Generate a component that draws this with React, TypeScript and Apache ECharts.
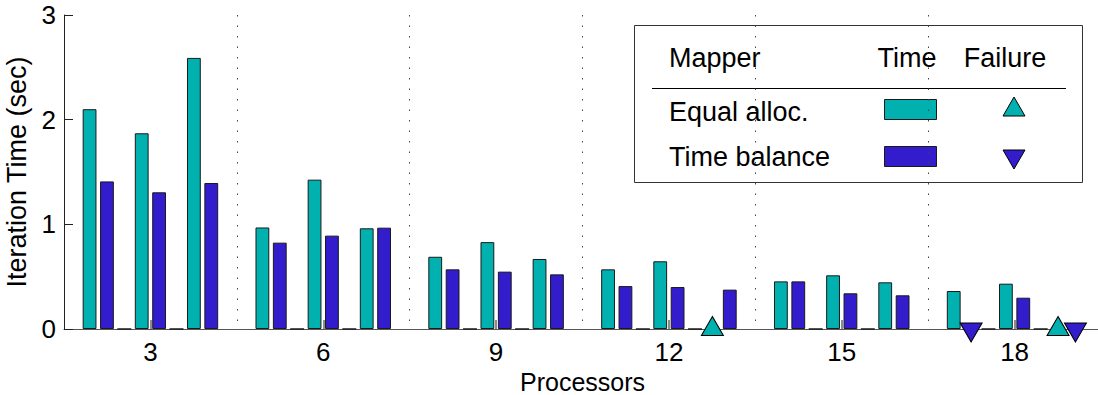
import React, { useEffect, useRef } from 'react';
import * as echarts from 'echarts';

// Processor counts (x categories)
const processors = ['3', '6', '9', '12', '15', '18'];
// Three test cases per processor count; null = mapper failed
const equalAlloc1 = [2.1, 0.97, 0.69, 0.57, 0.455, 0.363];
const timeBalance1 = [1.41, 0.825, 0.57, 0.41, 0.455, null];
const equalAlloc2 = [1.87, 1.427, 0.83, 0.647, 0.513, 0.433];
const timeBalance2 = [1.306, 0.892, 0.548, 0.401, 0.341, 0.299];
const equalAlloc3 = [2.59, 0.962, 0.669, null, 0.446, null];
const timeBalance3 = [1.395, 0.968, 0.522, 0.376, 0.322, null];
const spacer = [0, 0, 0, 0, 0, 0];

const yMin = 0;
const yMax = 3;
const yStep = 1;

const TEAL = '#00b1b0';
const BLUE = '#321ccb';
const FONT = '"Liberation Sans", Arial, Helvetica, sans-serif';

function failures(values: (number | null)[], up: boolean, color: string) {
  return {
    silent: true,
    symbol: 'triangle',
    symbolSize: [22, 19],
    symbolRotate: up ? 0 : 180,
    symbolOffset: [0, up ? -3 : 3.5],
    label: { show: false },
    itemStyle: { color, borderColor: '#000', borderWidth: 1 },
    data: processors
      .filter((_, i) => values[i] == null)
      .map((p) => ({ coord: [p, 0] })),
  };
}

function barSeries(name: string, values: (number | null)[], color: string, fail?: any) {
  return {
    name,
    type: 'bar',
    data: values,
    barWidth: 13.8,
    barGap: '26%',
    itemStyle: { color, borderColor: '#1a1a1a', borderWidth: 1 },
    markPoint: fail,
    z: 3,
  };
}

export default function App() {
  const ref = useRef<HTMLDivElement>(null);
  useEffect(() => {
    if (!ref.current) return;
    const chart = echarts.init(ref.current, null, { renderer: 'svg' });
    const legendX = 634.5;
    const legendY = 25.5;
    chart.setOption({
      animation: false,
      grid: { left: 64, top: 15, width: 1037, height: 314, containLabel: false, outerBoundsMode: 'none' },
      xAxis: {
        type: 'category',
        data: processors,
        name: 'Processors',
        nameLocation: 'middle',
        nameGap: 29,
        nameTextStyle: { fontSize: 25, fontFamily: FONT, color: '#000', lineHeight: 25 },
        axisLine: { show: true, lineStyle: { color: '#555', width: 1 } },
        axisTick: { show: true, inside: true, alignWithLabel: true, length: 9, lineStyle: { color: '#666', width: 1.5 } },
        axisLabel: { fontSize: 26, fontFamily: FONT, color: '#000', margin: 10 },
        splitLine: { show: true, lineStyle: { color: '#444', type: [1.5, 9], width: 1 } },
      },
      yAxis: {
        type: 'value',
        min: yMin,
        max: yMax,
        interval: yStep,
        name: 'Iteration Time (sec)',
        nameLocation: 'middle',
        nameGap: 28,
        nameTextStyle: { fontSize: 27, fontFamily: FONT, color: '#000' },
        axisLine: { show: true, lineStyle: { color: '#222', width: 1 } },
        axisTick: { show: true, inside: true, length: 9, lineStyle: { color: '#222' } },
        axisLabel: { fontSize: 26, fontFamily: FONT, color: '#000', margin: 8 },
        splitLine: { show: false },
      },
      series: [
        barSeries('Equal alloc. 1', equalAlloc1, TEAL, failures(equalAlloc1, true, TEAL)),
        barSeries('Time balance 1', timeBalance1, BLUE, failures(timeBalance1, false, BLUE)),
        barSeries('spacer 1', spacer, '#000'),
        barSeries('Equal alloc. 2', equalAlloc2, TEAL, failures(equalAlloc2, true, TEAL)),
        barSeries('Time balance 2', timeBalance2, BLUE, failures(timeBalance2, false, BLUE)),
        barSeries('spacer 2', spacer, '#000'),
        barSeries('Equal alloc. 3', equalAlloc3, TEAL, failures(equalAlloc3, true, TEAL)),
        barSeries('Time balance 3', timeBalance3, BLUE, failures(timeBalance3, false, BLUE)),
      ],
      graphic: [
        {
          type: 'group',
          z: 100,
          children: [
            {
              type: 'rect',
              shape: { x: legendX, y: legendY, width: 448, height: 157 },
              style: { fill: '#fff', stroke: '#333', lineWidth: 1 },
            },
            { type: 'text', x: 669, y: 58, style: { text: 'Mapper', fontSize: 27, fontFamily: FONT, fill: '#000', align: 'left', verticalAlign: 'middle' } },
            { type: 'text', x: 907, y: 58, style: { text: 'Time', fontSize: 27, fontFamily: FONT, fill: '#000', align: 'center', verticalAlign: 'middle' } },
            { type: 'text', x: 1005, y: 58, style: { text: 'Failure', fontSize: 27, fontFamily: FONT, fill: '#000', align: 'center', verticalAlign: 'middle' } },
            { type: 'line', shape: { x1: 652, y1: 88.5, x2: 1066, y2: 88.5 }, style: { stroke: '#000', lineWidth: 1 } },
            { type: 'text', x: 669, y: 112, style: { text: 'Equal alloc.', fontSize: 27, fontFamily: FONT, fill: '#000', align: 'left', verticalAlign: 'middle' } },
            { type: 'text', x: 669, y: 157, style: { text: 'Time balance', fontSize: 27, fontFamily: FONT, fill: '#000', align: 'left', verticalAlign: 'middle' } },
            { type: 'rect', shape: { x: 884.5, y: 99.5, width: 52, height: 20 }, style: { fill: TEAL, stroke: '#1a1a1a', lineWidth: 1 } },
            { type: 'rect', shape: { x: 884.5, y: 146.5, width: 52, height: 20 }, style: { fill: BLUE, stroke: '#1a1a1a', lineWidth: 1 } },
            { type: 'polygon', shape: { points: [[1003, 116], [1025, 116], [1014, 97]] }, style: { fill: TEAL, stroke: '#000', lineWidth: 1 } },
            { type: 'polygon', shape: { points: [[1003, 150], [1025, 150], [1014, 169]] }, style: { fill: BLUE, stroke: '#000', lineWidth: 1 } },
          ],
        },
      ],
    });
    return () => chart.dispose();
  }, []);
  return (
    <div
      ref={ref}
      style={{ position: 'fixed', left: 0, top: 0, width: 1098, height: 395, background: '#fff' }}
    />
  );
}
